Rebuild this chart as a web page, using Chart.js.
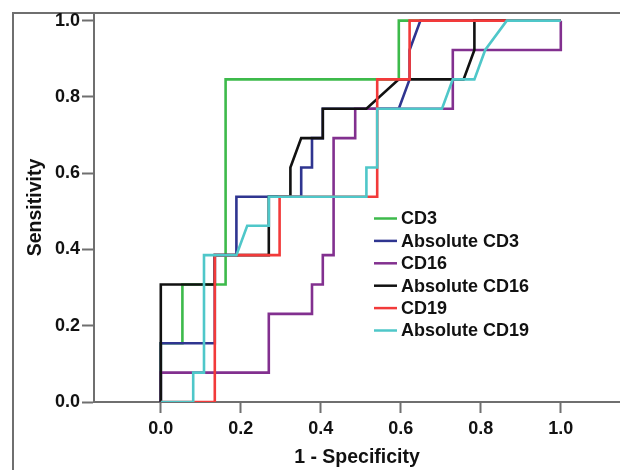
<!DOCTYPE html>
<html lang="en">

<head>
    <meta charset="UTF-8">
    <title>ROC curves</title>
    <script src="https://cdn.jsdelivr.net/npm/chart.js"></script>
    <style>
        body { margin: 0; overflow: hidden; background: #fff; }
        #roc { position: absolute; left: 0; top: 0; }
    </style>
</head>

<body>
    <canvas id="roc" width="620" height="470"></canvas>
    <script>
        // ROC steps (1 - specificity, sensitivity)
        const seriesNames = ['CD3', 'Absolute CD3', 'CD16', 'Absolute CD16', 'CD19', 'Absolute CD19'];
        const seriesColors = ['#3dba4b', '#2f3590', '#82308f', '#111111', '#f23a3a', '#4fc7c9'];

        const cd3X = [0, 0, 0.054, 0.054, 0.162, 0.162, 0.595, 0.595, 1];
        const cd3Y = [0, 0.154, 0.154, 0.308, 0.308, 0.846, 0.846, 1, 1];

        const absCd3X = [0, 0, 0.135, 0.135, 0.189, 0.189, 0.351, 0.351, 0.378, 0.378, 0.405, 0.405, 0.595, 0.622, 0.622, 0.649, 1];
        const absCd3Y = [0, 0.154, 0.154, 0.385, 0.385, 0.538, 0.538, 0.615, 0.615, 0.692, 0.692, 0.769, 0.769, 0.846, 0.923, 1, 1];

        const cd16X = [0, 0, 0.270, 0.270, 0.378, 0.378, 0.405, 0.405, 0.432, 0.432, 0.486, 0.486, 0.730, 0.730, 1, 1];
        const cd16Y = [0, 0.077, 0.077, 0.231, 0.231, 0.308, 0.308, 0.385, 0.385, 0.692, 0.692, 0.769, 0.769, 0.923, 0.923, 1];

        const absCd16X = [0, 0, 0.135, 0.135, 0.270, 0.270, 0.324, 0.324, 0.351, 0.405, 0.405, 0.514, 0.595, 0.757, 0.784, 0.784, 1];
        const absCd16Y = [0, 0.308, 0.308, 0.385, 0.385, 0.538, 0.538, 0.615, 0.692, 0.692, 0.769, 0.769, 0.846, 0.846, 0.923, 1, 1];

        const cd19X = [0, 0.135, 0.135, 0.297, 0.297, 0.541, 0.541, 0.622, 0.622, 1];
        const cd19Y = [0, 0, 0.385, 0.385, 0.538, 0.538, 0.846, 0.846, 1, 1];

        const absCd19X = [0, 0.081, 0.081, 0.108, 0.108, 0.189, 0.216, 0.270, 0.270, 0.514, 0.514, 0.541, 0.541, 0.703, 0.730, 0.784, 0.811, 0.865, 1];
        const absCd19Y = [0, 0, 0.077, 0.077, 0.385, 0.385, 0.462, 0.462, 0.538, 0.538, 0.615, 0.615, 0.769, 0.769, 0.846, 0.846, 0.923, 1, 1];

        const xTicks = [0, 0.2, 0.4, 0.6, 0.8, 1.0];
        const yTicks = [0, 0.2, 0.4, 0.6, 0.8, 1.0];

        const allX = [cd3X, absCd3X, cd16X, absCd16X, cd19X, absCd19X];
        const allY = [cd3Y, absCd3Y, cd16Y, absCd16Y, cd19Y, absCd19Y];

        const fontFamily = '"Liberation Sans", Arial, sans-serif';
        const axisGray = '#6f6f6f';

        // outer frame (only its left and top edges are inside the picture)
        const outerFrame = {
            id: 'outerFrame',
            beforeDraw(chart) {
                const ctx = chart.ctx;
                ctx.save();
                ctx.strokeStyle = axisGray;
                ctx.lineWidth = 2;
                ctx.beginPath();
                ctx.moveTo(13, chart.height);
                ctx.lineTo(13, 13);
                ctx.lineTo(chart.width, 13);
                ctx.stroke();
                ctx.restore();
            }
        };

        // legend sits inside the plot in the reference, so draw it by hand
        const insideLegend = {
            id: 'insideLegend',
            afterDatasetsDraw(chart) {
                const ctx = chart.ctx;
                ctx.save();
                ctx.font = 'bold 18px ' + fontFamily;
                ctx.textBaseline = 'middle';
                seriesNames.forEach((name, i) => {
                    const y = 218.5 + i * 22.4;
                    ctx.strokeStyle = seriesColors[i];
                    ctx.lineWidth = 2.5;
                    ctx.beginPath();
                    ctx.moveTo(374, y);
                    ctx.lineTo(397, y);
                    ctx.stroke();
                    ctx.fillStyle = '#111';
                    ctx.fillText(name, 401, y + 1);
                });
                ctx.restore();
            }
        };

        const datasets = seriesNames.map((name, i) => ({
            label: name,
            data: allX[i].map((x, j) => ({ x: x, y: allY[i][j] })),
            borderColor: seriesColors[i],
            borderWidth: 2.6,
            pointRadius: 0,
            tension: 0,
            fill: false,
            order: seriesNames.length - i   // later series drawn on top
        }));

        new Chart(document.getElementById('roc'), {
            type: 'line',
            data: { datasets: datasets },
            options: {
                responsive: false,
                animation: false,
                layout: { padding: { top: 13, left: 0, right: 0, bottom: 0 } },
                plugins: { legend: { display: false }, tooltip: { enabled: false } },
                scales: {
                    x: {
                        type: 'linear',
                        min: -0.167,
                        max: 1.148,
                        afterBuildTicks: s => { s.ticks = xTicks.map(v => ({ value: v })); },
                        afterFit: s => { s.height = 68; },
                        ticks: {
                            callback: v => v.toFixed(1),
                            font: { family: fontFamily, size: 18, weight: 'bold' },
                            color: '#111',
                            padding: 5,
                            maxRotation: 0
                        },
                        grid: { drawOnChartArea: false, tickLength: 11, tickColor: axisGray, tickWidth: 2 },
                        border: { color: axisGray, width: 2 },
                        title: {
                            display: true,
                            text: '1 - Specificity',
                            font: { family: fontFamily, size: 19.5, weight: 'bold' },
                            color: '#111',
                            padding: { top: 0, bottom: 1 }
                        }
                    },
                    y: {
                        type: 'linear',
                        min: 0,
                        max: 1.02,
                        afterBuildTicks: s => { s.ticks = yTicks.map(v => ({ value: v })); },
                        afterFit: s => { s.width = 94; },
                        ticks: {
                            callback: v => v.toFixed(1),
                            font: { family: fontFamily, size: 18, weight: 'bold' },
                            color: '#111',
                            padding: 2
                        },
                        grid: { drawOnChartArea: false, tickLength: 12, tickColor: axisGray, tickWidth: 2 },
                        border: { color: axisGray, width: 2 },
                        title: {
                            display: true,
                            text: 'Sensitivity',
                            font: { family: fontFamily, size: 19.5, weight: 'bold' },
                            color: '#111',
                            padding: { top: 24, bottom: 0 }
                        }
                    }
                }
            },
            plugins: [outerFrame, insideLegend]
        });
    </script>
</body>

</html>
